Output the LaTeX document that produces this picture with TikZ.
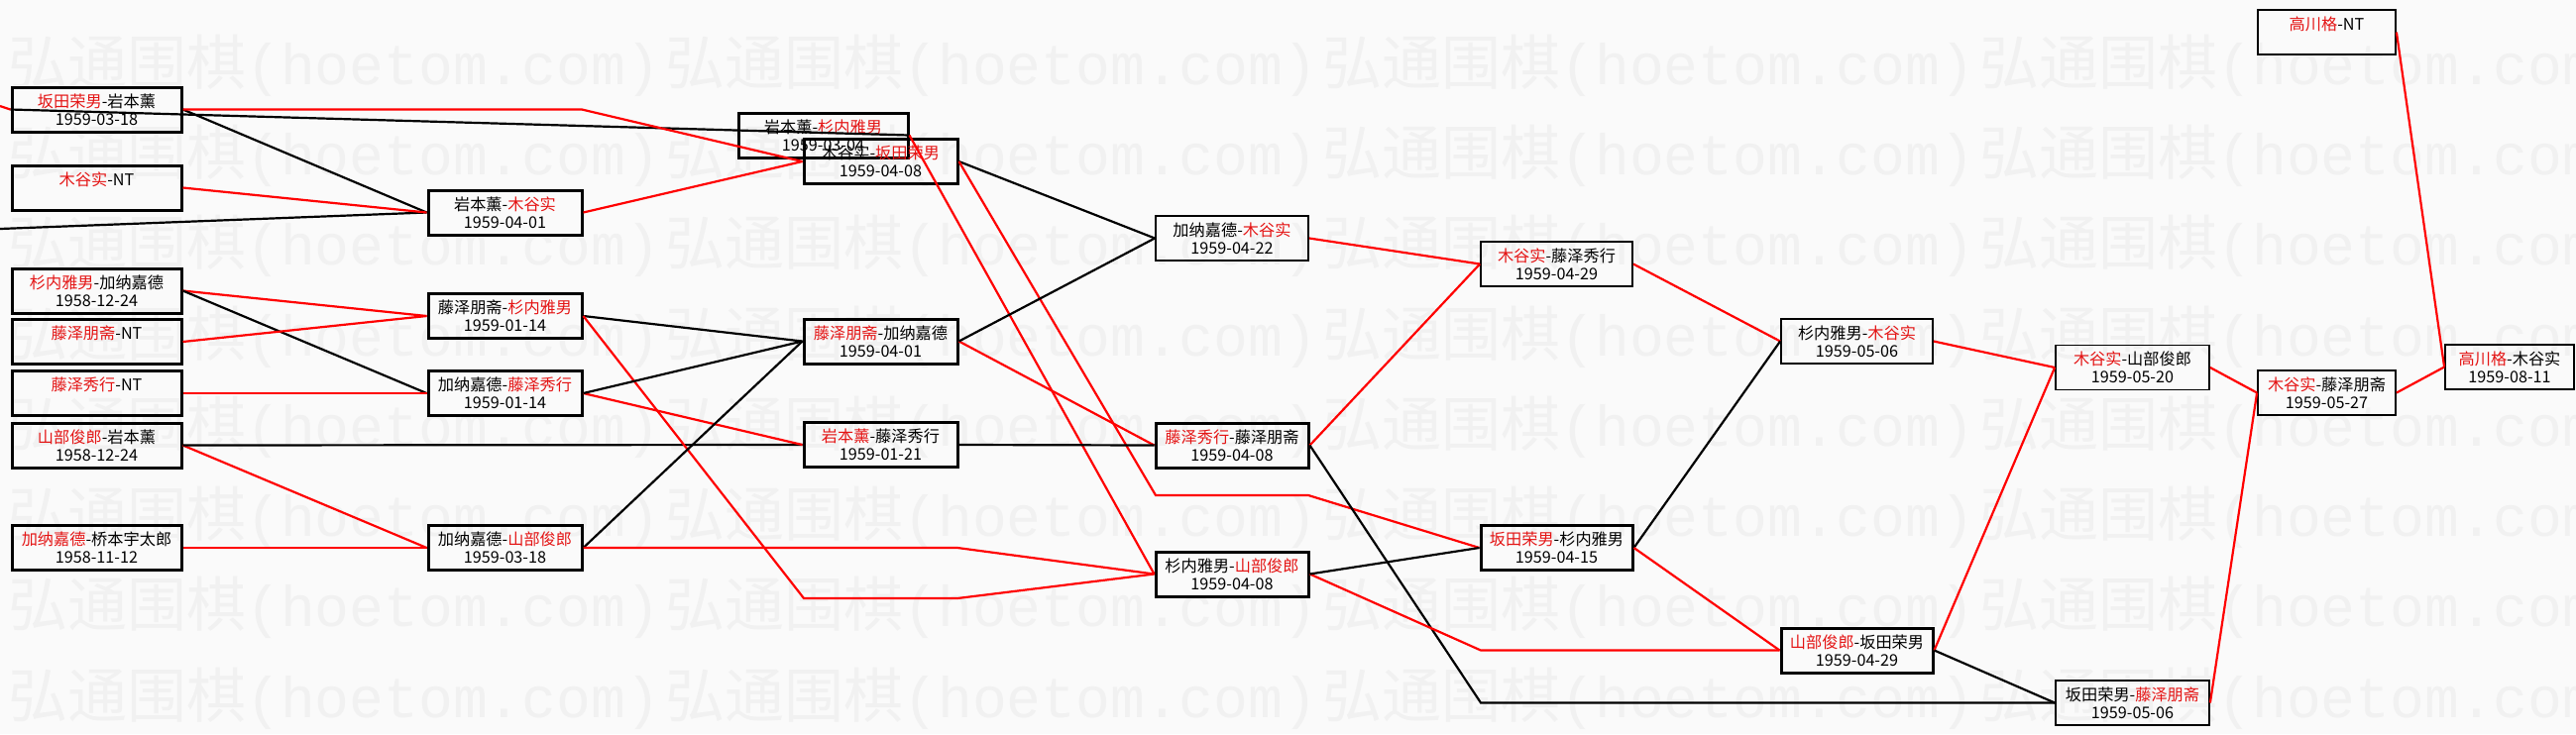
\documentclass[tikz,border=0pt]{standalone}
\usepackage{fontspec}
\setmainfont{Noto Sans CJK SC}
\newfontfamily\wmmono{Liberation Mono}
\definecolor{wred}{RGB}{255,0,0}
\definecolor{tred}{RGB}{228,20,20}
\definecolor{wmgray}{RGB}{241,241,241}
\newcommand\rd[1]{\textcolor{tred}{#1}}
\begin{document}
\begin{tikzpicture}[x=0.5pt,y=-0.5pt,
  game/.style={draw=black, line width=1.5pt, inner sep=0pt, minimum height=22.5pt,
    align=center, font=\fontsize{8.1}{9.2}\selectfont},
  thinbox/.style={line width=0.9pt},
  bw/.style={minimum width=#1*0.5pt},
  win/.style={draw=wred, line width=1.1pt},
  lose/.style={draw=black, line width=1.1pt},
  wm/.style={font=\fontsize{30}{30}\selectfont, text=wmgray, anchor=west, inner sep=0pt}]
\useasboundingbox (0,0) rectangle (2599,741);
\fill[white!98!black] (0,0) rectangle (2599,741);
% watermark
\foreach \r in {0,...,7}{
  \foreach \c in {0,...,3}{
    \node[wm] (wm\r\c) at (8+663*\c, 66+91.3*\r) {弘通围棋{\wmmono\fontsize{29}{29}\selectfont(hoetom.com)}};
  }
}
% games
\node[game,bw=171] (A1) at (97.5,110.5) {\rd{坂田荣男}-岩本薰\\1959-03-18};
\node[game,bw=171] (A2) at (97.5,189.5) {\rd{木谷实}-NT\\\phantom{0}};
\node[game,bw=171] (A3) at (97.5,293.5) {\rd{杉内雅男}-加纳嘉德\\1958-12-24};
\node[game,bw=171] (A4) at (97.5,345) {\rd{藤泽朋斋}-NT\\\phantom{0}};
\node[game,bw=171] (A5) at (97.5,397) {\rd{藤泽秀行}-NT\\\phantom{0}};
\node[game,bw=171] (A6) at (97.5,449.5) {\rd{山部俊郎}-岩本薰\\1958-12-24};
\node[game,bw=171] (A7) at (97.5,553) {\rd{加纳嘉德}-桥本宇太郎\\1958-11-12};
\node[game,bw=155] (B1) at (509.5,214.5) {岩本薰-\rd{木谷实}\\1959-04-01};
\node[game,bw=155] (B2) at (509.5,319) {藤泽朋斋-\rd{杉内雅男}\\1959-01-14};
\node[game,bw=155] (B3) at (509.5,397) {加纳嘉德-\rd{藤泽秀行}\\1959-01-14};
\node[game,bw=155] (B4) at (509.5,553) {加纳嘉德-\rd{山部俊郎}\\1959-03-18};
\node[game,bw=171] (C0) at (830.5,136.5) {岩本薰-\rd{杉内雅男}\\1959-03-04};
\node[game,bw=155] (C1) at (888.5,163) {木谷实-\rd{坂田荣男}\\1959-04-08};
\node[game,bw=155] (C2) at (888.5,344.5) {\rd{藤泽朋斋}-加纳嘉德\\1959-04-01};
\node[game,bw=155] (C3) at (888.5,449) {\rd{岩本薰}-藤泽秀行\\1959-01-21};
\node[game,thinbox,bw=154] (D1) at (1243,240.5) {加纳嘉德-\rd{木谷实}\\1959-04-22};
\node[game,bw=154] (D2) at (1243,449.5) {\rd{藤泽秀行}-藤泽朋斋\\1959-04-08};
\node[game,bw=154] (D3) at (1243,579.5) {杉内雅男-\rd{山部俊郎}\\1959-04-08};
\node[game,thinbox,bw=153] (E1) at (1570.5,266.5) {\rd{木谷实}-藤泽秀行\\1959-04-29};
\node[game,bw=153] (E2) at (1570.5,553) {\rd{坂田荣男}-杉内雅男\\1959-04-15};
\node[game,thinbox,bw=153] (F1) at (1873.5,344.5) {杉内雅男-\rd{木谷实}\\1959-05-06};
\node[game,bw=153] (F2) at (1873.5,656.5) {\rd{山部俊郎}-坂田荣男\\1959-04-29};
\node[game,thinbox,bw=155] (G1) at (2151.5,371) {\rd{木谷实}-山部俊郎\\1959-05-20};
\node[game,thinbox,bw=155] (G2) at (2151.5,709.5) {坂田荣男-\rd{藤泽朋斋}\\1959-05-06};
\node[game,thinbox,bw=139] (H1) at (2347.5,396.5) {\rd{木谷实}-藤泽朋斋\\1959-05-27};
\node[game,thinbox,bw=139] (I0) at (2347.5,32.5) {\rd{高川格}-NT\\\phantom{0}};
\node[game,thinbox,bw=130] (I1) at (2532,370.5) {\rd{高川格}-木谷实\\1959-08-11};
% free ends and bends
\coordinate (offA) at (0,107);
\coordinate (offB) at (0,231);
\coordinate (v1) at (587,110.5);
\coordinate (v2a) at (811,604);
\coordinate (v2b) at (966,604);
\coordinate (v3) at (966,553);
\coordinate (v4a) at (1166,500);
\coordinate (v4b) at (1320,500);
\coordinate (v5) at (1494,709.5);
\coordinate (v6a) at (1494,656.5);
\coordinate (v6b) at (1647,656.5);
% connectors
\draw[win] (offA) -- (A1.west);
\draw[lose] (C0.east) -- (A1.west);
\draw[lose] (offB) -- (B1.west);
\draw[lose] (A1.east) -- (B1.west);
\draw[win] (A2.east) -- (B1.west);
\draw[win] (A1.east) -- (v1) -- (C1.west);
\draw[win] (B1.east) -- (C1.west);
\draw[win] (A3.east) -- (B2.west);
\draw[lose] (A3.east) -- (B3.west);
\draw[win] (A4.east) -- (B2.west);
\draw[win] (A5.east) -- (B3.west);
\draw[win] (A6.east) -- (B4.west);
\draw[lose] (A6.east) -- (C3.west);
\draw[win] (A7.east) -- (B4.west);
\draw[lose] (B2.east) -- (C2.west);
\draw[win] (B2.east) -- (v2a) -- (v2b) -- (D3.west);
\draw[win] (B3.east) -- (C3.west);
\draw[lose] (B3.east) -- (C2.west);
\draw[lose] (B4.east) -- (C2.west);
\draw[win] (B4.east) -- (v3) -- (D3.west);
\draw[win] (C0.east) -- (D3.west);
\draw[lose] (C1.east) -- (D1.west);
\draw[win] (C1.east) -- (v4a) -- (v4b) -- (E2.west);
\draw[win] (C2.east) -- (D2.west);
\draw[lose] (C2.east) -- (D1.west);
\draw[lose] (C3.east) -- (D2.west);
\draw[win] (D1.east) -- (E1.west);
\draw[win] (D2.east) -- (E1.west);
\draw[lose] (D2.east) -- (v5) -- (G2.west);
\draw[win] (D3.east) -- (v6a) -- (v6b) -- (F2.west);
\draw[lose] (D3.east) -- (E2.west);
\draw[win] (E1.east) -- (F1.west);
\draw[lose] (E2.east) -- (F1.west);
\draw[win] (E2.east) -- (F2.west);
\draw[win] (F1.east) -- (G1.west);
\draw[win] (F2.east) -- (G1.west);
\draw[lose] (F2.east) -- (G2.west);
\draw[win] (G1.east) -- (H1.west);
\draw[win] (G2.east) -- (H1.west);
\draw[win] (H1.east) -- (I1.west);
\draw[win] (I0.east) -- (I1.west);
\end{tikzpicture}
\end{document}
